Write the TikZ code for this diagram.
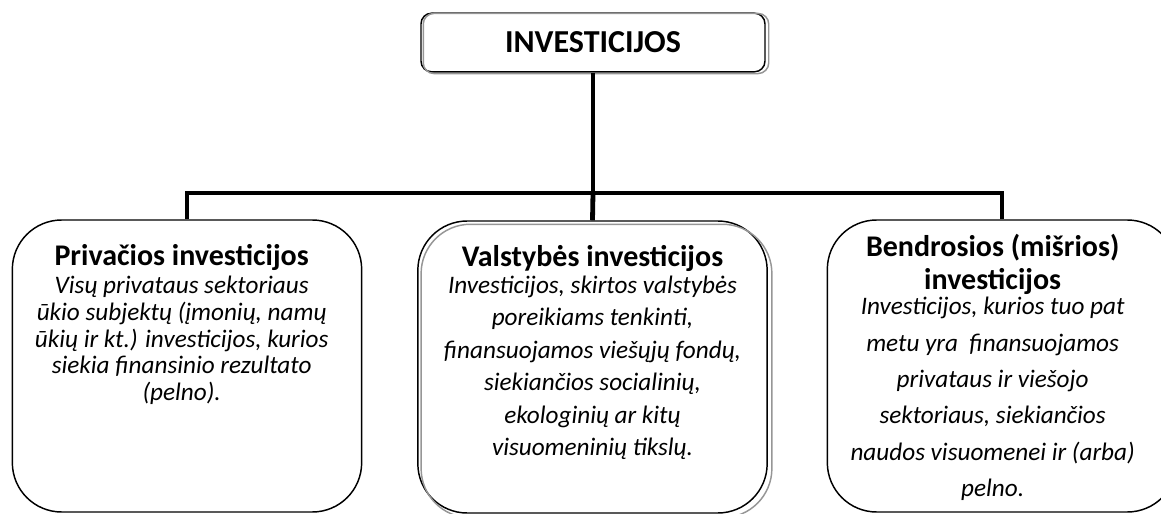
\documentclass[tikz,border=0pt]{standalone}
\usepackage{fontspec}
\setmainfont{Carlito}
\usetikzlibrary{positioning}

\definecolor{investgray}{RGB}{150,150,150}

\begin{document}
\begin{tikzpicture}[x=0.75pt,y=-0.75pt,
    box/.style={draw,line width=1.1pt,rounded corners=37pt,minimum width=262pt,minimum height=219pt,inner sep=0pt},
    copyline/.style={investgray,line width=1.1pt},
    ttl/.style={align=flush center,inner sep=0pt,font=\bfseries\fontsize{22.5}{21.75}\selectfont},
    txt/.style={align=flush center,text width=258pt,inner sep=0pt,font=\itshape\fontsize{18.9}{#1}\selectfont},
    txt/.default=20pt,
    conn/.style={line width=3.6pt}]
    \useasboundingbox (0,0) rectangle (1161,514);

    \node[draw,line width=1.1pt,rounded corners=8pt,minimum width=258pt,minimum height=44pt,
      font=\bfseries\fontsize{24}{24}\selectfont] (inv) at (593,42.5) {INVESTICIJOS};
    \draw[copyline,rounded corners=8pt] ([shift={(3,1)}]inv.north west) rectangle ([shift={(3,1)}]inv.south east);

    \node[box] (priv) at (187,366) {};
    \node[box] (pub) at (592.5,367) {};
    \node[box] (mix) at (1002,366) {};
    \draw[copyline,rounded corners=37pt] ([shift={(4,4)}]pub.north west) rectangle ([shift={(4,4)}]pub.south east);

    \node[ttl,below=19pt of priv.north,xshift=-4pt] (privttl) {Privačios investicijos};
    \node[txt,below=3.5pt of privttl] (privtxt)
      {Visų privataus sektoriaus\\
       ūkio subjektų (įmonių, namų\\
       ūkių ir kt.) investicijos, kurios\\
       siekia finansinio rezultato\\
       (pelno).};
    \node[ttl,below=18.75pt of pub.north] (pubttl) {Valstybės investicijos};
    \node[txt=24.4pt,below=2.5pt of pubttl] (pubtxt)
      {Investicijos, skirtos valstybės\\
       poreikiams tenkinti,\\
       finansuojamos viešųjų fondų,\\
       siekiančios socialinių,\\
       ekologinių ar kitų\\
       visuomeninių tikslų.};
    \node[ttl,below=10.8pt of mix.north,xshift=-7pt] (mixttl) {Bendrosios (mišrios)\\[3pt] investicijos};
    \node[txt=27.2pt,below=2pt of mixttl] (mixtxt)
      {Investicijos, kurios tuo pat\\
       metu yra\ \ finansuojamos\\
       privataus ir viešojo\\
       sektoriaus, siekiančios\\
       naudos visuomenei ir (arba)\\
       pelno.};

    % jungtys
    \coordinate (hub) at (593,193);
    \draw[conn] (inv.south) -- (hub);
    \draw[conn] (priv.north) |- (hub) -| (mix.north);
    \draw[conn] (hub) -- (pub.north);
\end{tikzpicture}
\end{document}
